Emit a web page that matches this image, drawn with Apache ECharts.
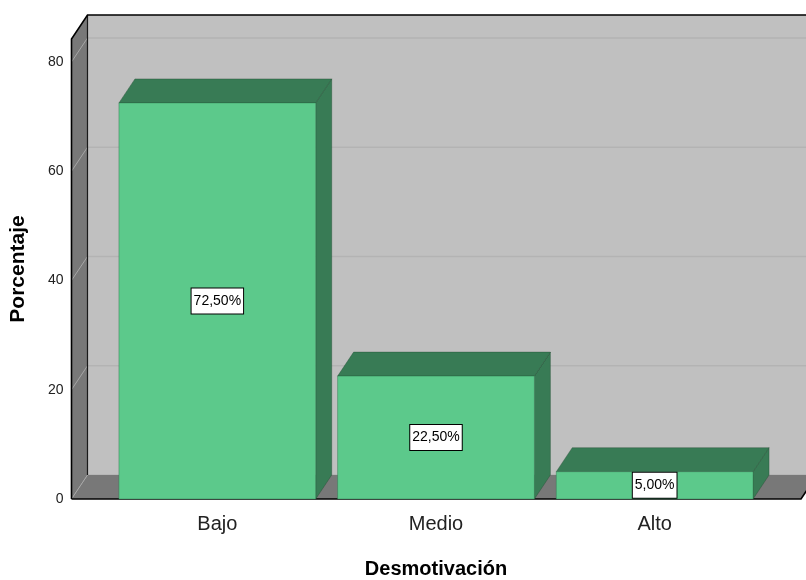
<!DOCTYPE html>
<html><head><meta charset="utf-8">
<script src="https://cdn.jsdelivr.net/npm/echarts@6/dist/echarts.min.js"></script>
<style>html,body{margin:0;padding:0;background:#fff}#c{width:806px;height:580px}</style>
</head><body><div id="c"></div>
<script>
const categories = ['Bajo', 'Medio', 'Alto'];
const values = [72.5, 22.5, 5.0];
const valueLabels = ['72,50%', '22,50%', '5,00%'];
const yTicks = [0, 20, 40, 60, 80];
const yMax = 84.2;

const DX = 16, DY = -24, AXIS_OFFSET = 36.5;
const SANS = '"Liberation Sans", Arial, sans-serif';

function renderFrame(params, api) {
  const cs = params.coordSys;
  const W = api.getWidth();
  const fx = cs.x - AXIS_OFFSET;
  const bx = fx + DX;
  const yF = v => api.coord([0, v])[1];
  const yTop = yF(yMax), y0 = yF(0);
  const floorR = cs.x + cs.width + 37;
  const ch = [];
  ch.push({type: 'rect', shape: {x: bx, y: yTop + DY, width: W - bx, height: y0 - yTop}, style: {fill: '#c0c0c0'}});
  yTicks.forEach(v => {
    ch.push({type: 'line', shape: {x1: bx, y1: yF(v) + DY, x2: W, y2: yF(v) + DY}, style: {stroke: '#b3b3b3', lineWidth: 1.5}});
  });
  ch.push({type: 'polygon', shape: {points: [[fx, yTop], [bx, yTop + DY], [bx, y0 + DY], [fx, y0]]}, style: {fill: '#787878'}});
  ch.push({type: 'polygon', shape: {points: [[fx, y0], [bx, y0 + DY], [floorR + DX, y0 + DY], [floorR, y0]]}, style: {fill: '#787878'}});
  yTicks.forEach(v => {
    ch.push({type: 'line', shape: {x1: fx, y1: yF(v), x2: bx, y2: yF(v) + DY}, style: {stroke: '#a6a6a6', lineWidth: 1}});
  });
  ch.push({type: 'line', shape: {x1: bx, y1: yTop + DY, x2: bx, y2: y0 + DY}, style: {stroke: '#1a1a1a', lineWidth: 1.2}});
  ch.push({type: 'polyline', shape: {points: [[fx, y0], [fx, yTop], [bx, yTop + DY], [W, yTop + DY]]}, style: {stroke: '#000', lineWidth: 1.6, fill: null}});
  ch.push({type: 'polyline', shape: {points: [[fx, y0], [floorR, y0], [floorR + DX, y0 + DY]]}, style: {stroke: '#000', lineWidth: 1.6, fill: null}});
  return {type: 'group', children: ch};
}

function renderBar(params, api) {
  const i = api.value(0), v = api.value(1);
  const p = api.coord([i, v]);
  const p0 = api.coord([i, 0]);
  const bw = api.size([1, 0])[0] * 0.9;
  const x0 = p[0] - bw / 2, x1 = p[0] + bw / 2, yt = p[1], yb = p0[1];
  const edge = 'rgba(30,70,45,0.45)';
  return {
    type: 'group',
    children: [
      {type: 'polygon', shape: {points: [[x1, yt], [x1 + DX, yt + DY], [x1 + DX, yb + DY], [x1, yb]]}, style: {fill: '#387b55', stroke: edge, lineWidth: 0.8}},
      {type: 'polygon', shape: {points: [[x0, yt], [x0 + DX, yt + DY], [x1 + DX, yt + DY], [x1, yt]]}, style: {fill: '#387b55', stroke: edge, lineWidth: 0.8}},
      {type: 'rect', shape: {x: x0, y: yt, width: bw, height: yb - yt}, style: {fill: '#5cc98b', stroke: 'rgba(40,110,70,0.5)', lineWidth: 0.8}},
      {type: 'text', x: p[0], y: (yt + yb) / 2, style: {
        text: valueLabels[params.dataIndex], align: 'center', verticalAlign: 'middle',
        fill: '#000', font: '14px ' + SANS, lineHeight: 17,
        backgroundColor: '#fff', borderColor: '#000', borderWidth: 1, padding: [4, 2, 4, 2]
      }}
    ]
  };
}

const chart = echarts.init(document.getElementById('c'), null, {renderer: 'canvas'});
chart.setOption({
  animation: false,
  backgroundColor: '#fff',
  grid: {left: 108, right: 42, top: 39, bottom: 81, containLabel: false, outerBoundsMode: 'none'},
  xAxis: {
    type: 'category', data: categories,
    axisLine: {show: false}, axisTick: {show: false}, splitLine: {show: false},
    axisLabel: {fontFamily: SANS, fontSize: 20, color: '#222', margin: 15},
    name: 'Desmotivación', nameLocation: 'middle', nameGap: 60,
    nameTextStyle: {fontFamily: SANS, fontWeight: 'bold', fontSize: 20, color: '#000'}
  },
  yAxis: {
    type: 'value', min: 0, max: yMax, interval: 20, offset: AXIS_OFFSET,
    axisLine: {show: false}, axisTick: {show: false}, splitLine: {show: false},
    axisLabel: {fontFamily: SANS, fontSize: 14, color: '#222', margin: 8, padding: [5, 0, 0, 0],
      formatter: v => (yTicks.indexOf(v) >= 0 ? String(v) : '')},
    name: 'Porcentaje', nameLocation: 'middle', nameGap: 43,
    nameTextStyle: {fontFamily: SANS, fontWeight: 'bold', fontSize: 21, color: '#000'}
  },
  series: [
    {type: 'custom', renderItem: renderFrame, data: [[0, 0]], z: 1, silent: true},
    {type: 'custom', renderItem: renderBar, data: values.map((v, i) => [i, v]), z: 2}
  ]
});
</script>
</body></html>
